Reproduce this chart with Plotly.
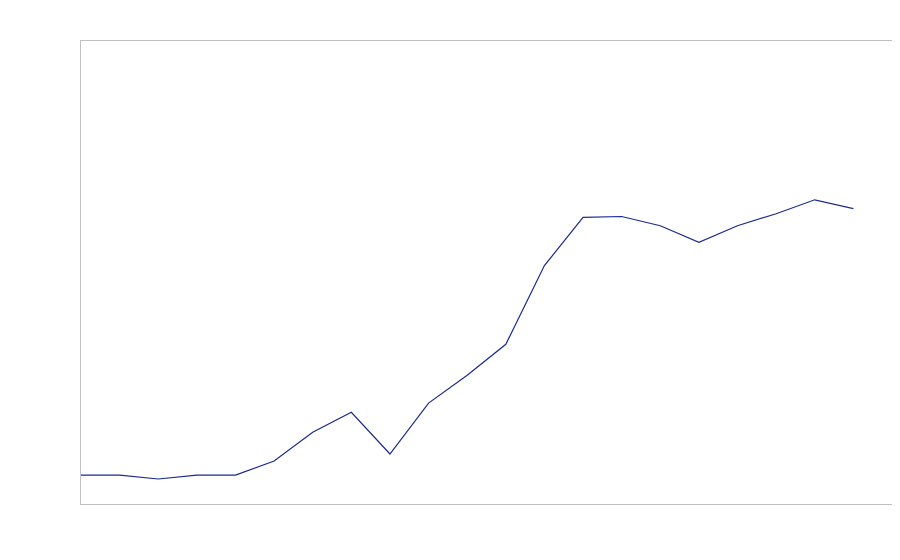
import plotly.graph_objects as go

x_index = list(range(21))
values = [6.25, 6.25, 5.4, 6.25, 6.25, 9.3, 15.5, 19.8, 10.8, 21.8, 27.8, 34.5,
          51.5, 61.9, 62.1, 60.1, 56.5, 60.1, 62.7, 65.7, 63.8]

fig = go.Figure()
fig.add_trace(go.Scatter(x=x_index, y=values, mode="lines",
                         line=dict(color="#1a2a8f", width=1.2), showlegend=False,
                         hoverinfo="skip"))

fig.update_layout(
    width=900, height=560,
    margin=dict(l=73, r=16, t=33, b=64),
    paper_bgcolor="white", plot_bgcolor="white",
    xaxis=dict(range=[0, 21], showgrid=False, zeroline=False, showticklabels=False,
               ticks="", showline=True, linecolor="#c0c0c0", linewidth=1, mirror=True),
    yaxis=dict(range=[0, 100], showgrid=False, zeroline=False, showticklabels=False,
               ticks="", showline=True, linecolor="#c0c0c0", linewidth=1, mirror=True),
)

fig.write_html("out.html")
